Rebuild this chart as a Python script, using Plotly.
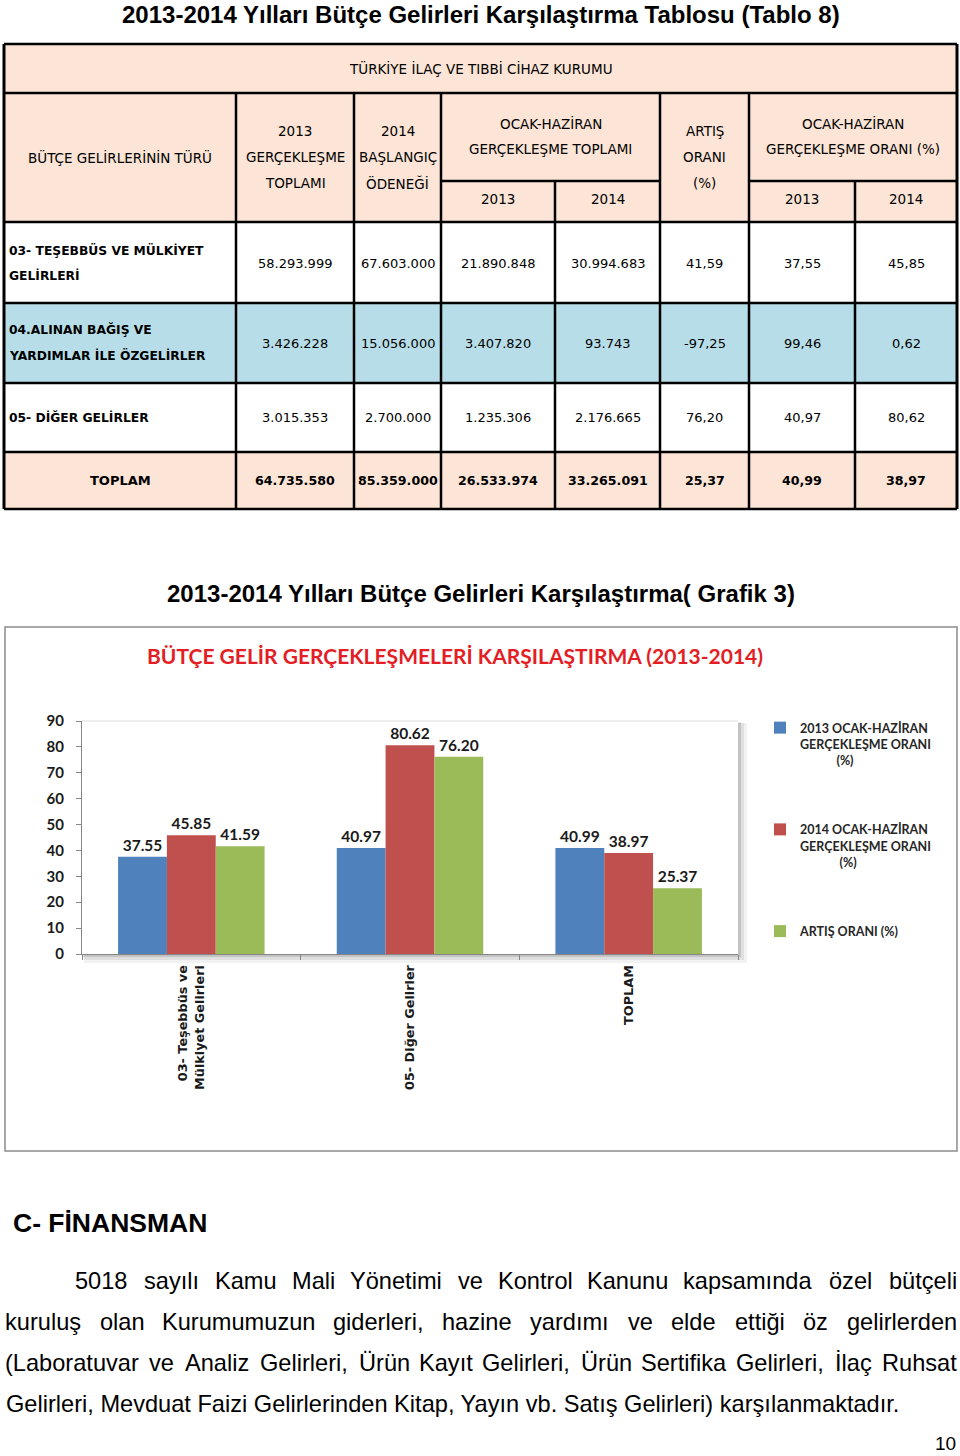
import plotly.graph_objects as go

# ======================= DATA =======================
page_title = "2013-2014 Yılları Bütçe Gelirleri Karşılaştırma Tablosu (Tablo 8)"
institution_name = "TÜRKİYE İLAÇ VE TIBBİ CİHAZ KURUMU"
header_first_col = ["BÜTÇE GELİRLERİNİN TÜRÜ"]
header_gerceklesme_2013 = ["2013", "GERÇEKLEŞME", "TOPLAMI"]
header_baslangic_2014 = ["2014", "BAŞLANGIÇ", "ÖDENEĞİ"]
header_oh_toplam = ["OCAK-HAZİRAN", "GERÇEKLEŞME TOPLAMI"]
header_artis = ["ARTIŞ", "ORANI", "(%)"]
header_oh_oran = ["OCAK-HAZİRAN", "GERÇEKLEŞME ORANI (%)"]
sub_years = ["2013", "2014"]

row_labels = [["03- TEŞEBBÜS VE MÜLKİYET", "GELİRLERİ"],
              ["04.ALINAN BAĞIŞ VE", "YARDIMLAR İLE ÖZGELİRLER"],
              ["05- DİĞER GELİRLER"],
              ["TOPLAM"]]
gerceklesme_2013 = ["58.293.999", "3.426.228", "3.015.353", "64.735.580"]
baslangic_2014 = ["67.603.000", "15.056.000", "2.700.000", "85.359.000"]
oh_toplam_2013 = ["21.890.848", "3.407.820", "1.235.306", "26.533.974"]
oh_toplam_2014 = ["30.994.683", "93.743", "2.176.665", "33.265.091"]
artis_orani_tbl = ["41,59", "-97,25", "76,20", "25,37"]
oh_oran_2013 = ["37,55", "99,46", "40,97", "40,99"]
oh_oran_2014 = ["45,85", "0,62", "80,62", "38,97"]

chart_heading = "2013-2014 Yılları Bütçe Gelirleri Karşılaştırma( Grafik 3)"
chart_title = "BÜTÇE GELİR GERÇEKLEŞMELERİ KARŞILAŞTIRMA (2013-2014)"
categories = ["03- Teşebbüs ve<br>Mülkiyet Gelirleri", "05- Diğer Gelirler", "TOPLAM"]
series_names = [["2013 OCAK-HAZİRAN", "GERÇEKLEŞME ORANI", "(%)"],
                ["2014 OCAK-HAZİRAN", "GERÇEKLEŞME ORANI", "(%)"],
                ["ARTIŞ ORANI (%)"]]
oran_2013 = [37.55, 40.97, 40.99]
oran_2014 = [45.85, 80.62, 38.97]
artis_orani = [41.59, 76.20, 25.37]
y_ticks = [0, 10, 20, 30, 40, 50, 60, 70, 80, 90]

section_heading = "C- FİNANSMAN"
paragraph_lines = [
    "5018 sayılı Kamu Mali Yönetimi ve Kontrol Kanunu kapsamında özel bütçeli",
    "kuruluş olan Kurumumuzun giderleri, hazine yardımı ve elde ettiği öz gelirlerden",
    "(Laboratuvar ve Analiz Gelirleri, Ürün Kayıt Gelirleri, Ürün Sertifika Gelirleri, İlaç Ruhsat",
    "Gelirleri, Mevduat Faizi Gelirlerinden Kitap, Yayın vb. Satış Gelirleri) karşılanmaktadır.",
]
page_number = "10"

# ======================= LAYOUT HELPERS =======================
W, H = 960, 1456
def X(p): return p / W
def Y(p): return 1 - p / H

shapes, annotations = [], []

def rect(x0, y0, x1, y1, fill=None, line=None, lw=0, layer="below"):
    shapes.append(dict(type="rect", xref="paper", yref="paper",
                       x0=X(x0), x1=X(x1), y0=Y(y1), y1=Y(y0),
                       fillcolor=fill or "rgba(0,0,0,0)",
                       line=dict(color=line or "rgba(0,0,0,0)", width=lw), layer=layer))

def seg(x0, y0, x1, y1, color="#000", lw=2.5, layer="above"):
    shapes.append(dict(type="line", xref="paper", yref="paper",
                       x0=X(x0), x1=X(x1), y0=Y(y0), y1=Y(y1),
                       line=dict(color=color, width=lw), layer=layer))

TBL_FONT = "DejaVu Sans"
def text(x, y, s, size=13, family=TBL_FONT, color="#000", bold=False, xanchor="center",
         yanchor="middle"):
    annotations.append(dict(xref="paper", yref="paper", x=X(x), y=Y(y), text=s,
                            showarrow=False, xanchor=xanchor, yanchor=yanchor,
                            borderpad=0,
                            font=dict(family=family, size=size, color=color,
                                      weight="bold" if bold else "normal")))

# ======================= PAGE TITLE =======================
text(481, 0, page_title, size=24, family="Liberation Sans, Arial", bold=True, yanchor="top")

# ======================= TABLE =======================
PEACH, BLUE = "#FCE4D6", "#B7DEE8"
col_x = [4, 236, 354, 441, 555, 660, 749, 855, 957]
row_y = [44, 93, 222, 303, 383, 452, 509]
sub_y = 181
row_fill = ["#FFFFFF", BLUE, "#FFFFFF", PEACH]

rect(col_x[0], row_y[0], col_x[-1], row_y[2], fill=PEACH)
for i in range(4):
    rect(col_x[0], row_y[2 + i], col_x[-1], row_y[3 + i], fill=row_fill[i])

for yy in row_y:
    seg(col_x[0], yy, col_x[-1], yy)
seg(col_x[3], sub_y, col_x[5], sub_y)
seg(col_x[6], sub_y, col_x[8], sub_y)
seg(col_x[0], row_y[0], col_x[0], row_y[-1], lw=3)
seg(col_x[-1], row_y[0], col_x[-1], row_y[-1], lw=3)
for k in [1, 2, 3, 5, 6]:
    seg(col_x[k], row_y[1], col_x[k], row_y[-1])
for k in [4, 7]:
    seg(col_x[k], sub_y, col_x[k], row_y[-1])

HFS = 13.5
cc = [(col_x[k] + col_x[k + 1]) / 2 for k in range(8)]
text(481, 68, institution_name, size=HFS)
text(cc[0], 157, header_first_col[0], size=HFS)
for j, s in enumerate(header_gerceklesme_2013):
    text(cc[1], 131 + 26 * j, s, size=HFS)
for j, s in enumerate(header_baslangic_2014):
    text(cc[2], 131 + 26 * j, s, size=HFS)
for j, s in enumerate(header_oh_toplam):
    text((col_x[3] + col_x[5]) / 2, 123 + 26 * j, s, size=HFS)
for j, s in enumerate(header_artis):
    text(cc[5], 131 + 26 * j, s, size=HFS)
for j, s in enumerate(header_oh_oran):
    text((col_x[6] + col_x[8]) / 2, 123 + 26 * j, s, size=HFS)
text(cc[3], 199, sub_years[0], size=HFS); text(cc[4], 199, sub_years[1], size=HFS)
text(cc[6], 199, sub_years[0], size=HFS); text(cc[7], 199, sub_years[1], size=HFS)

value_cols = [gerceklesme_2013, baslangic_2014, oh_toplam_2013, oh_toplam_2014,
              artis_orani_tbl, oh_oran_2013, oh_oran_2014]
row_centers = [263, 343, 418, 481]
for i, lab in enumerate(row_labels):
    yc = row_centers[i]
    is_total = (i == len(row_labels) - 1)
    if is_total:
        text(cc[0], yc, lab[0], size=13, bold=True)
    elif len(lab) == 2:
        text(8, yc - 13, lab[0], size=12.3, bold=True, xanchor="left")
        text(8, yc + 12, lab[1], size=12.3, bold=True, xanchor="left")
    else:
        text(8, yc, lab[0], size=12.3, bold=True, xanchor="left")
    for k, col in enumerate(value_cols):
        text(cc[k + 1], yc, col[i], size=12.6 if is_total else 13, bold=is_total)

# ======================= CHART =======================
text(481, 593, chart_heading, size=24, family="Liberation Sans, Arial", bold=True)
rect(5, 627, 957, 1151, fill="#FFFFFF", line="#8C8C8C", lw=1.5)
text(455, 656, chart_title, size=21, family="Lato", color="#E31E24", bold=True)

# plot-area shadow + face
px0, py0, px1, py1 = 82, 721, 738, 954
rect(px0 + 2, py0 + 2, px1 + 9, py1 + 9, fill="rgba(0,0,0,0.05)")
rect(px0 + 2, py0 + 2, px1 + 6, py1 + 6, fill="rgba(0,0,0,0.08)")
rect(px0 + 1, py0 + 1, px1 + 3, py1 + 3, fill="rgba(0,0,0,0.12)")
rect(px0, py0, px1, py1, fill="#FFFFFF")
seg(px0, py0, px1, py0, color="#DDDDDD", lw=1, layer="below")

colors = ["#4F81BD", "#C0504D", "#9BBB59"]
pads = [12, 13, 0]
fig = go.Figure()
for idx, (vals, nm) in enumerate(zip([oran_2013, oran_2014, artis_orani], series_names)):
    lines = list(nm)
    if len(lines) == 3:
        lines[2] = "\u00a0" * pads[idx] + lines[2]
    fig.add_trace(go.Bar(
        x=categories, y=vals, name="<br>".join(lines),
        marker=dict(color=colors[idx], line=dict(width=0)),
        texttemplate="%{y:.2f}", textposition="outside", constraintext="none",
        cliponaxis=False,
        textfont=dict(family="Lato", size=15.5, color="#1A1A1A", weight="bold"),
        legendgroup="g%d" % idx,
    ))

fig.update_layout(
    width=W, height=H, autosize=False,
    margin=dict(l=0, r=0, t=0, b=0, pad=0, autoexpand=False),
    paper_bgcolor="#FFFFFF", plot_bgcolor="rgba(0,0,0,0)",
    barmode="group", bargap=0.33, bargroupgap=0,
    font=dict(family=TBL_FONT, color="#000"),
    xaxis=dict(domain=[X(px0), X(px1)], type="category", automargin=False,
               showline=True, linecolor="#868686", linewidth=1,
               ticks="outside", ticklen=5, tickcolor="#868686", tickson="boundaries",
               tickangle=-90, ticklabelstandoff=5,
               tickfont=dict(family="DejaVu Sans", size=12.8, color="#1A1A1A", weight="bold"),
               showgrid=False, zeroline=False, fixedrange=True),
    yaxis=dict(domain=[Y(py1), Y(py0)], range=[0, 90], tickvals=y_ticks, automargin=False,
               showline=True, linecolor="#868686", linewidth=1,
               ticks="outside", ticklen=5, tickcolor="#868686", ticklabelstandoff=9,
               tickfont=dict(family="Lato", size=15, color="#1A1A1A", weight="bold"),
               showgrid=False, zeroline=False, fixedrange=True),
    legend=dict(x=X(760), y=Y(713), xanchor="left", yanchor="top",
                font=dict(family="Lato", size=12.5, color="#262626", weight="bold"),
                tracegroupgap=50, valign="top", itemwidth=30,
                bgcolor="rgba(0,0,0,0)", traceorder="grouped"),
    showlegend=True,
)

# ======================= TEXT SECTION =======================
BODY_FONT = "Liberation Sans, Arial"
text(12, 1223, section_heading, size=26.5, family=BODY_FONT, bold=True, xanchor="left")

AW = {c: 556 for c in "abdeghnopqu0123456789ğüöABEKPSVXYŞ"}
AW.update({"c": 500, "k": 500, "s": 500, "v": 500, "x": 500, "y": 500, "z": 500, "ş": 500, "ç": 500,
           "f": 278, "t": 278, "ı": 278, "i": 222, "j": 222, "l": 222, "m": 833, "r": 333, "w": 722,
           " ": 278, ",": 278, ".": 278, "(": 333, ")": 333, "İ": 278, "I": 278,
           "C": 722, "D": 722, "H": 722, "N": 722, "R": 722, "U": 722, "Ü": 722,
           "F": 611, "T": 611, "Z": 611, "G": 778, "O": 778, "Ö": 778, "M": 833, "L": 556,
           "A": 667, "J": 500, "W": 944})
PARA_FS = 23.6
def wwidth(w):
    return sum(AW.get(c, 556) for c in w) * PARA_FS / 1000

line_y = [1281, 1322, 1363, 1404]
line_x0 = [75, 5, 5, 5]
line_x1 = 957
for i, line in enumerate(paragraph_lines):
    if i == len(paragraph_lines) - 1:
        text(line_x0[i], line_y[i], line, size=PARA_FS, family=BODY_FONT, xanchor="left")
        continue
    words = line.split(" ")
    ws = [wwidth(w) for w in words]
    gap = (line_x1 - line_x0[i] - sum(ws)) / (len(words) - 1)
    xpos = line_x0[i]
    for w, wd in zip(words, ws):
        text(xpos + wd / 2, line_y[i], w, size=PARA_FS, family=BODY_FONT)
        xpos += wd + gap

text(957, 1455, page_number, size=19, family=BODY_FONT, xanchor="right", yanchor="bottom")

fig.update_layout(shapes=shapes, annotations=annotations)
fig.write_html("out.html")
